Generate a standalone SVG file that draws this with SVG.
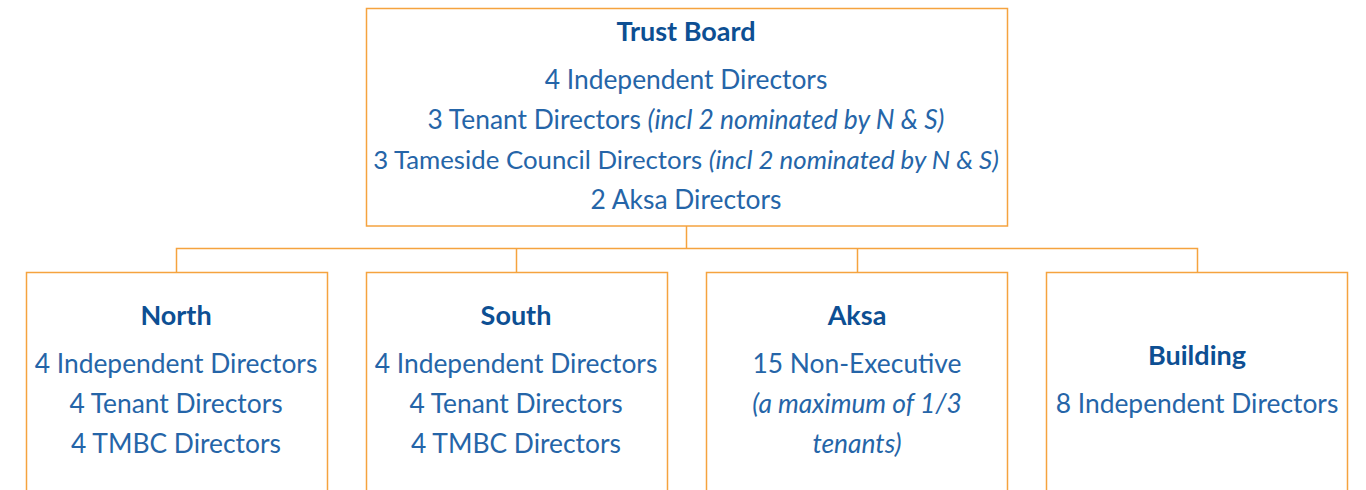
<svg xmlns="http://www.w3.org/2000/svg" width="1366" height="490" viewBox="0 0 1366 490">
<style>
.box{fill:#ffffff;stroke:#f5a33f;stroke-width:1.5}
.con{fill:none;stroke:#f5a33f;stroke-width:1.5}
text{font-family:Lato,"Open Sans",sans-serif;text-anchor:middle;fill:#2565a8;font-size:26.4px}
.t{font-weight:bold;fill:#0d4f93;font-size:27px}
.i{font-style:italic}
.s{font-size:25.8px}
</style>
<rect width="1366" height="490" fill="#ffffff"/>
<g id="connectors">
<path class="con" d="M686.5 226V248.5M176.5 272V248.5H1197.5V272M516.5 248.5V272M857.5 248.5V272"/>
</g>
<g id="trust-board">
<rect class="box" x="366.5" y="8.5" width="641" height="217.5"/>
<text class="t" x="686" y="41">Trust Board</text>
<text x="686" y="89">4 Independent Directors</text>
<text x="686" y="129">3 Tenant Directors <tspan class="i">(incl 2 nominated by N &amp; S)</tspan></text>
<text class="s" x="686" y="169">3 Tameside Council Directors <tspan class="i">(incl 2 nominated by N &amp; S)</tspan></text>
<text x="686" y="209">2 Aksa Directors</text>
</g>
<g id="north">
<rect class="box" x="26.5" y="272.5" width="301" height="230"/>
<text class="t" x="176" y="325">North</text>
<text x="176" y="373">4 Independent Directors</text>
<text x="176" y="413">4 Tenant Directors</text>
<text x="176" y="453">4 TMBC Directors</text>
</g>
<g id="south">
<rect class="box" x="366.5" y="272.5" width="301" height="230"/>
<text class="t" x="516" y="325">South</text>
<text x="516" y="373">4 Independent Directors</text>
<text x="516" y="413">4 Tenant Directors</text>
<text x="516" y="453">4 TMBC Directors</text>
</g>
<g id="aksa">
<rect class="box" x="706.5" y="272.5" width="301" height="230"/>
<text class="t" x="857" y="325">Aksa</text>
<text x="857" y="373">15 Non-Executive</text>
<text class="i" x="857" y="413">(a maximum of 1/3</text>
<text class="i" x="857" y="453">tenants)</text>
</g>
<g id="building">
<rect class="box" x="1046.5" y="272.5" width="301" height="230"/>
<text class="t" x="1197" y="365">Building</text>
<text x="1197" y="413">8 Independent Directors</text>
</g>
</svg>
